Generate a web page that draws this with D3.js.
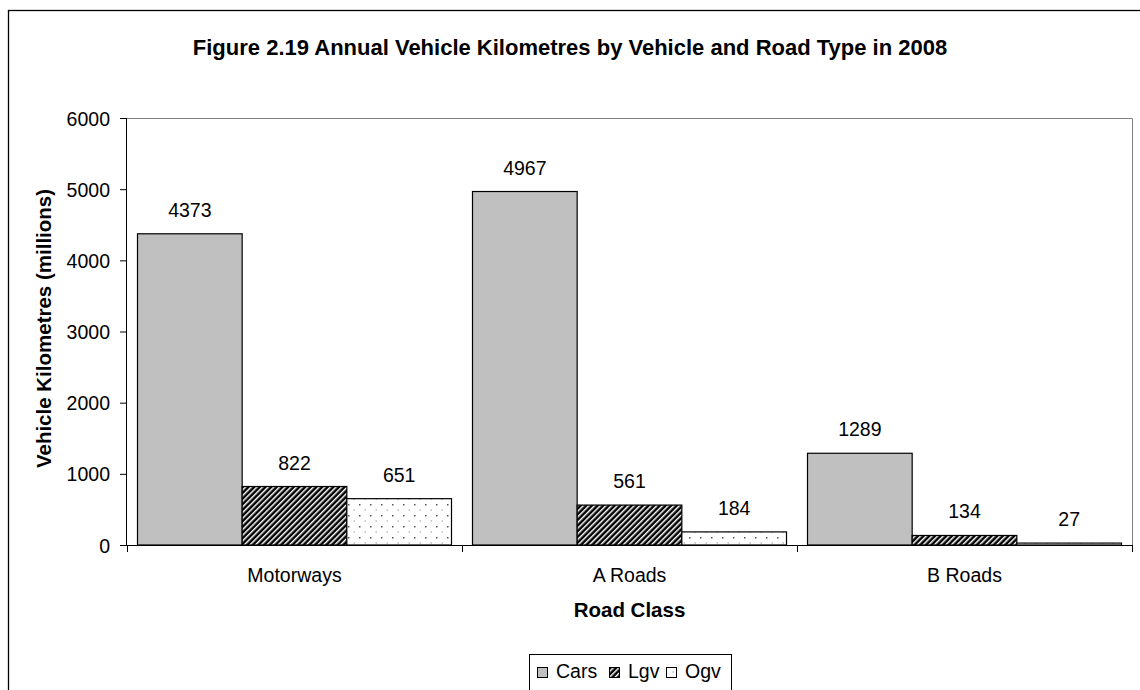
<!DOCTYPE html>
<html>
<head>
<meta charset="utf-8">
<script src="https://cdn.jsdelivr.net/npm/d3@7"></script>
<style>
  body { margin: 0; background: #fff; }
  svg { font-family: "Liberation Sans", Arial, sans-serif; }
</style>
</head>
<body>
<div id="chart"></div>
<script>
var categories = ["Motorways", "A Roads", "B Roads"];
var seriesNames = ["Cars", "Lgv", "Ogv"];
var cars = [4373, 4967, 1289];
var lgv = [822, 561, 134];
var ogv = [651, 184, 27];
var yTicks = [0, 1000, 2000, 3000, 4000, 5000, 6000];

var seriesValues = [cars, lgv, ogv];
var rows = [];
categories.forEach(function(cat, i) {
  seriesNames.forEach(function(s, j) {
    rows.push({category: cat, series: s, value: seriesValues[j][i]});
  });
});

var W = 1140, H = 690;
var margin = {top: 118, left: 127};
var width = 1132 - margin.left,
  height = 545 - margin.top;

var svg = d3.select("#chart").append("svg")
  .attr("width", W)
  .attr("height", H);

// patterns
var defs = svg.append("defs");
var hatch = defs.append("pattern")
  .attr("id", "hatch")
  .attr("patternUnits", "userSpaceOnUse")
  .attr("width", 4).attr("height", 4)
  .attr("patternTransform", "rotate(45)");
hatch.append("rect").attr("width", 4).attr("height", 4).attr("fill", "#000");
hatch.append("rect").attr("x", 0).attr("width", 1.5).attr("height", 4).attr("fill", "#fff");

var dots = defs.append("pattern")
  .attr("id", "dots")
  .attr("patternUnits", "userSpaceOnUse")
  .attr("width", 11).attr("height", 11);
dots.append("rect").attr("width", 11).attr("height", 11).attr("fill", "#fff");
dots.append("rect").attr("x", 1).attr("y", 1).attr("width", 1.5).attr("height", 1.5).attr("fill", "#555");
dots.append("rect").attr("x", 6.5).attr("y", 6.5).attr("width", 1.5).attr("height", 1).attr("fill", "#999");

var fills = {Cars: "#c0c0c0", Lgv: "url(#hatch)", Ogv: "url(#dots)"};

// outer border
svg.append("rect")
  .attr("x", 8.5).attr("y", 10.5)
  .attr("width", 1140).attr("height", 700)
  .attr("fill", "none")
  .attr("stroke", "#000")
  .attr("stroke-width", 1.3);

svg.append("text")
  .attr("x", 570).attr("y", 55)
  .attr("text-anchor", "middle")
  .style("font-size", "22px")
  .style("font-weight", "bold")
  .text("Figure 2.19 Annual Vehicle Kilometres by Vehicle and Road Type in 2008");

var g = svg.append("g")
  .attr("transform", "translate(" + margin.left + "," + margin.top + ")");

var x0 = d3.scaleBand().domain(categories).range([0, width]);
var x1 = d3.scaleBand().domain(seriesNames).range([10.5, x0.bandwidth() - 10.5]);
var y = d3.scaleLinear().domain([0, 6000]).range([height, 0]);

// plot area border (top/right gray)
g.append("path")
  .attr("d", "M0,0.5H" + (width + 0.5) + "V" + height)
  .attr("fill", "none")
  .attr("stroke", "#808080")
  .attr("stroke-width", 1);

// bars
g.selectAll(".bar")
  .data(rows)
  .enter()
  .append("rect")
  .attr("class", "bar")
  .attr("x", function(d) { return x0(d.category) + x1(d.series); })
  .attr("y", function(d) { return y(d.value); })
  .attr("width", x1.bandwidth())
  .attr("height", function(d) { return height - y(d.value); })
  .attr("fill", function(d) { return fills[d.series]; })
  .attr("stroke", "#000")
  .attr("stroke-width", 1.2);

// value labels
g.selectAll(".lbl")
  .data(rows)
  .enter()
  .append("text")
  .attr("class", "lbl")
  .attr("x", function(d) { return x0(d.category) + x1(d.series) + x1.bandwidth() / 2; })
  .attr("y", function(d) { return y(d.value) - 17; })
  .attr("text-anchor", "middle")
  .style("font-size", "19.5px")
  .text(function(d) { return d.value; });

// y axis
var yAxis = g.append("g")
  .call(d3.axisLeft(y).tickValues(yTicks).tickSize(7).tickPadding(10).tickFormat(d3.format("d")));
yAxis.select(".domain").attr("stroke", "#000").attr("d", "M-0.5,0V" + height);
yAxis.selectAll("text").style("font-size", "19.5px").attr("font-family", null).attr("dy", "0.36em");

// x axis
var xAxis = g.append("g")
  .attr("transform", "translate(0," + height + ")");
xAxis.append("line")
  .attr("x1", 0).attr("x2", width).attr("y1", 0.5).attr("y2", 0.5)
  .attr("stroke", "#000");
xAxis.selectAll(".xtick")
  .data([0].concat(categories.map(function(c) { return x0(c) + x0.bandwidth(); })))
  .enter()
  .append("line")
  .attr("x1", function(d) { return Math.round(d) + 0.5; })
  .attr("x2", function(d) { return Math.round(d) + 0.5; })
  .attr("y1", 0).attr("y2", 7)
  .attr("stroke", "#000");
xAxis.selectAll(".xlbl")
  .data(categories)
  .enter()
  .append("text")
  .attr("x", function(d) { return x0(d) + x0.bandwidth() / 2; })
  .attr("y", 37)
  .attr("text-anchor", "middle")
  .style("font-size", "19.5px")
  .text(function(d) { return d; });

svg.append("text")
  .attr("x", margin.left + width / 2)
  .attr("y", 617)
  .attr("text-anchor", "middle")
  .style("font-size", "20.5px")
  .style("font-weight", "bold")
  .text("Road Class");

svg.append("text")
  .attr("transform", "translate(51," + (margin.top + height / 2 - 3) + ") rotate(-90)")
  .attr("text-anchor", "middle")
  .style("font-size", "20.5px")
  .style("font-weight", "bold")
  .text("Vehicle Kilometres (millions)");

// legend
var legend = svg.append("g").attr("transform", "translate(529,654)");
legend.append("rect")
  .attr("x", 0.5).attr("y", 0.5)
  .attr("width", 202).attr("height", 50)
  .attr("fill", "#fff")
  .attr("stroke", "#000");
var offsets = [8, 80, 137];
var item = legend.selectAll(".item")
  .data(seriesNames)
  .enter()
  .append("g")
  .attr("transform", function(d, i) { return "translate(" + offsets[i] + ",0)"; });
item.append("rect")
  .attr("x", 0.5).attr("y", 13.5)
  .attr("width", 10).attr("height", 10)
  .attr("fill", function(d) { return fills[d]; })
  .attr("stroke", "#000");
item.append("text")
  .attr("x", 19).attr("y", 24)
  .style("font-size", "19.5px")
  .text(function(d) { return d; });
</script>
</body>
</html>
